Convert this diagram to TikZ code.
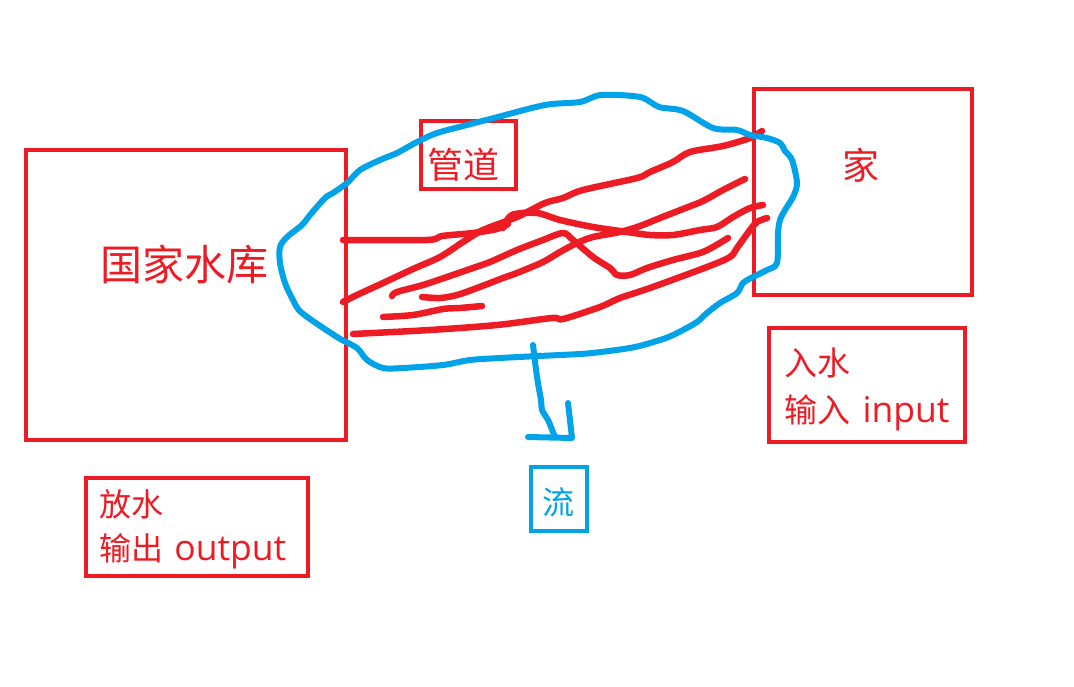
\documentclass[tikz,border=0pt]{standalone}
\usepackage{fontspec}
\newfontfamily\cjk{Noto Sans CJK SC}
\newfontfamily\lat{Open Sans}
\definecolor{pred}{HTML}{ED1C24}
\definecolor{pblue}{HTML}{00A2E8}
\begin{document}
\begin{tikzpicture}[x=1pt,y=-1pt,
  redbox/.style={draw=pred,line width=4pt,inner sep=0pt,outer sep=0pt},
  bluebox/.style={draw=pblue,line width=4pt,inner sep=0pt,outer sep=0pt},
  redtxt/.style={text=pred,inner sep=0pt,font=\cjk},
  bluetxt/.style={text=pblue,inner sep=0pt,font=\cjk},
  scrib/.style={draw=pred,line width=6.5pt,line cap=round,line join=round},
  bluepen/.style={draw=pblue,line width=6pt,line cap=round,line join=round}]
\useasboundingbox (0,0) rectangle (1074,687);
\fill[white] (0,0) rectangle (1074,687);

% boxes
\node[redbox,minimum width=320pt,minimum height=290pt] (resbox) at (186,295) {};
\node[redbox,minimum width=95pt,minimum height=68pt] (pipebox) at (468.5,155) {};
\node[redbox,minimum width=218pt,minimum height=206pt] (homebox) at (863,192) {};
\node[redbox,minimum width=196pt,minimum height=114pt] (inbox) at (867,385) {};
\node[redbox,minimum width=222pt,minimum height=98pt] (outbox) at (197,527) {};
\node[bluebox,minimum width=56pt,minimum height=64pt] (flowbox) at (559,499) {};

% texts
\node[redtxt,anchor=base,font=\cjk\fontsize{42}{50}\selectfont] (restxt) at (184,280) {国家水库};
\node[redtxt,anchor=base,font=\cjk\fontsize{36}{42}\selectfont] (pipetxt) at (463,179) {管道};
\node[redtxt,anchor=base,font=\cjk\fontsize{37}{44}\selectfont] (hometxt) at (861,180) {家};
\node[redtxt,anchor=base west,font=\cjk\fontsize{33}{40}\selectfont] (intxta) at (784,375) {入水};
\node[redtxt,anchor=base west,font=\cjk\fontsize{33}{40}\selectfont] (intxtb) at (784,422) {输入\hspace{5pt} {\lat\fontsize{35.5}{40}\selectfont input}};
\node[redtxt,anchor=base west,font=\cjk\fontsize{32}{40}\selectfont] (outtxta) at (99,516) {放水};
\node[redtxt,anchor=base west,font=\cjk\fontsize{32}{40}\selectfont] (outtxtb) at (99,560) {输出\hspace{4pt} {\lat\fontsize{35.5}{40}\selectfont output}};
\node[bluetxt,anchor=base,font=\cjk\fontsize{32}{40}\selectfont] (flowtxt) at (558,514) {流};

% red scribbles (pipes)
\draw[scrib] plot[smooth,tension=0.5] coordinates {(343,302) (357,295) (383,283) (413,269) (440,257) (463,242) (483,230) (517,217) (545,203) (563,198) (583,190) (637,178) (650,172) (673,162) (690,152) (723,146) (750,138) (762,131)};
\draw[scrib] plot[smooth,tension=0.5] coordinates {(343,240) (427,240) (442,236) (473,233) (497,229) (508,224)};
\draw[scrib] plot[smooth,tension=0.5] coordinates {(503,228) (512,215) (537,213) (560,220) (593,227) (627,232) (650,235) (673,235) (700,230) (717,227) (733,217) (750,208) (763,205)};
\draw[scrib] plot[smooth,tension=0.5] coordinates {(392,296) (397,292) (423,285) (447,277) (473,268) (490,262) (517,250) (543,240) (563,233) (573,240) (593,257) (610,268) (617,275) (630,275) (647,268) (673,260) (700,253) (713,247) (728,238)};
\draw[scrib] plot[smooth,tension=0.5] coordinates {(422,297) (440,298) (457,295) (477,288) (503,278) (517,273) (543,262) (560,252) (577,243) (593,237) (620,232) (640,226) (660,218) (683,209) (703,201) (723,190) (745,179)};
\draw[scrib] plot[smooth,tension=0.5] coordinates {(383,317) (413,315) (443,309) (460,308) (482,306)};
\draw[scrib] plot[smooth,tension=0.5] coordinates {(353,334) (430,330) (497,325) (552,318) (563,319) (600,307) (620,298) (650,288) (707,267) (730,257) (737,248) (750,230) (757,222) (767,218)};

% blue blob
\draw[bluepen] plot[smooth cycle,tension=0.5] coordinates {(601,95) (640,97) (659,107) (683,111) (713,128) (737,130) (750,135) (767,138) (780,143) (785,151) (792,160) (797,183) (793,197) (785,210) (780,220) (778,233) (777,263) (767,270) (753,277) (743,283) (737,293) (720,303) (707,313) (697,322) (683,330) (666,338) (635,347) (601,352) (580,354) (539,356) (500,358) (470,360) (443,365) (403,368) (383,368) (367,360) (357,348) (337,337) (302,313) (293,300) (285,283) (280,263) (280,247) (287,237) (302,225) (310,215) (325,198) (333,193) (347,183) (360,170) (380,160) (397,153) (417,142) (437,133) (467,125) (494,118) (545,105) (580,102)};

% blue flow arrow
\coordinate (arrtop) at (533,345);
\coordinate (arrend) at (555,437);
\draw[bluepen] plot[smooth,tension=0.5] coordinates {(arrtop) (537,377) (541,400) (542,410) (548,420) (553,432) (arrend)};
\draw[bluepen] (528,437) -- (572,438) -- (568,403);
\end{tikzpicture}
\end{document}
